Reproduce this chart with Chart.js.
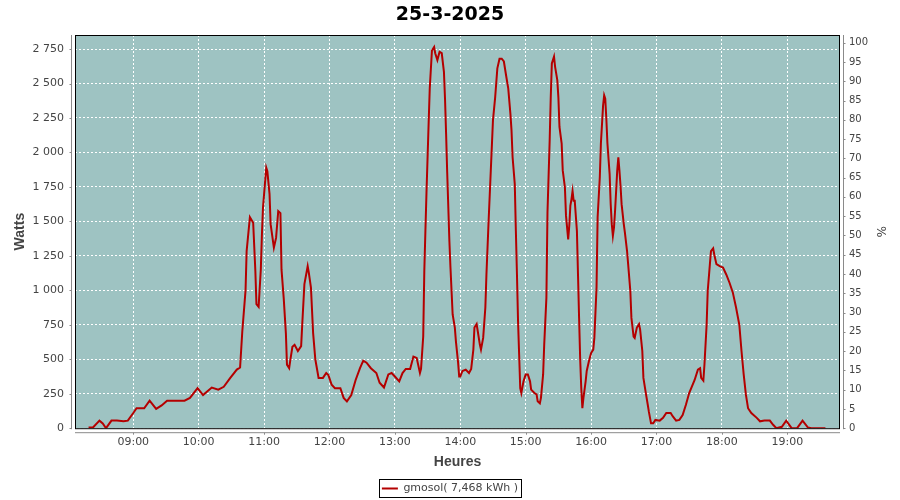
<!DOCTYPE html>
<html>
<head>
<meta charset="utf-8">
<title>25-3-2025</title>
<script src="https://cdn.jsdelivr.net/npm/chart.js@4.4.1/dist/chart.umd.min.js"></script>
<style>
  html, body { margin: 0; padding: 0; background: #fff; }
  #wrap { width: 900px; height: 500px; }
</style>
</head>
<body>
<div id="wrap"><canvas id="chart" width="900" height="500"></canvas></div>
<script>
// production gmosol, relevés
const times = [
  '08:19','08:23','08:29','08:32','08:35','08:40','08:45','08:51','08:55','09:00',
  '09:03','09:10','09:15','09:21','09:26','09:31','09:47','09:52','09:59','10:04',
  '10:12','10:18','10:23','10:29','10:35','10:38','10:40','10:43','10:44','10:47',
  '10:50','10:52','10:53','10:55','10:57','10:58','10:59','11:02','11:03','11:05',
  '11:06','11:09','11:11','11:13','11:15','11:16','11:18','11:20','11:21','11:23',
  '11:24','11:26','11:28','11:31','11:34','11:35','11:37','11:40','11:41','11:43',
  '11:45','11:47','11:50','11:54','11:57','11:59','12:02','12:05','12:10','12:13',
  '12:16','12:20','12:24','12:28','12:31','12:34','12:38','12:43','12:46','12:50',
  '12:54','12:57','13:00','13:04','13:07','13:10','13:14','13:17','13:20','13:23',
  '13:24','13:26','13:27','13:28','13:29','13:31','13:32','13:34','13:36','13:37',
  '13:39','13:41','13:43','13:45','13:46','13:47','13:48','13:50','13:51','13:53',
  '13:55','13:56','13:58','13:59','14:00','14:02','14:05','14:08','14:10','14:12',
  '14:13','14:15','14:16','14:18','14:19','14:21','14:23','14:24','14:26','14:28',
  '14:30','14:32','14:34','14:36','14:38','14:40','14:42','14:44','14:46','14:47',
  '14:48','14:50','14:51','14:52','14:53','14:54','14:55','14:56','14:58','15:00',
  '15:02','15:04','15:05','15:08','15:10','15:11','15:13','15:14','15:16','15:17',
  '15:19','15:20','15:22','15:23','15:24','15:26','15:27','15:29','15:30','15:31',
  '15:33','15:34','15:36','15:37','15:39','15:40','15:41','15:42','15:43','15:44',
  '15:45','15:47','15:48','15:49','15:50','15:51','15:52','15:53','15:55','15:56',
  '15:58','16:00','16:02','16:03','16:05','16:06','16:08','16:09','16:11','16:12',
  '16:13','16:14','16:15','16:17','16:18','16:19','16:20','16:21','16:22','16:24',
  '16:25','16:26','16:27','16:28','16:30','16:31','16:33','16:34','16:36','16:37',
  '16:39','16:40','16:42','16:44','16:45','16:47','16:48','16:50','16:52','16:53',
  '16:55','16:57','16:59','17:03','17:06','17:09','17:13','17:15','17:18','17:21',
  '17:24','17:27','17:30','17:35','17:38','17:40','17:41','17:43','17:44','17:46',
  '17:47','17:49','17:50','17:52','17:53','17:55','17:58','18:01','18:04','18:07',
  '18:10','18:13','18:16','18:18','18:20','18:22','18:24','18:27','18:32','18:35',
  '18:39','18:44','18:47','18:50','18:55','18:59','19:04','19:09','19:14','19:19',
  '19:22','19:35'
];
const watts = [
  5,5,55,35,0,55,55,50,55,110,
  145,145,200,140,165,200,200,220,290,240,
  295,280,300,365,425,440,700,1000,1285,1530,
  1490,1140,900,880,1150,1400,1600,1890,1865,1700,
  1480,1310,1380,1575,1560,1150,945,690,460,435,
  490,590,605,560,595,750,1045,1175,1130,1020,
  690,500,365,365,400,385,315,290,290,220,
  195,240,350,435,490,475,435,400,330,295,
  390,400,375,340,400,430,430,520,510,400,
  430,665,1140,1430,1710,2220,2465,2740,2765,2720,
  2670,2730,2720,2585,2390,2135,1855,1360,1165,825,
  730,630,475,375,375,415,425,400,430,570,
  730,755,705,605,570,655,875,1115,1505,1870,
  2235,2400,2610,2680,2680,2660,2560,2465,2280,2160,
  1965,1770,1430,1115,775,535,290,255,340,390,
  390,340,280,255,245,195,180,220,390,605,
  945,1565,2085,2400,2645,2695,2620,2525,2400,2185,
  2065,1870,1745,1540,1370,1470,1615,1660,1720,1650,
  1650,1430,1115,800,500,290,145,220,340,415,
  485,545,570,655,1020,1530,1820,2065,2340,2415,
  2390,2245,2065,1845,1625,1480,1395,1455,1575,1870,
  1965,1870,1760,1625,1480,1420,1285,1190,995,800,
  665,655,730,755,715,560,365,265,170,120,
  35,35,60,55,75,110,110,85,55,60,
  95,170,255,350,425,435,365,345,460,750,
  995,1190,1285,1305,1260,1190,1175,1165,1115,1055,
  985,875,750,560,390,245,145,110,75,50,
  55,55,25,0,10,55,0,0,55,5,
  0,0
];
const hourTicks = [9, 10, 11, 12, 13, 14, 15, 16, 17, 18, 19];
const wattTicks = [0, 250, 500, 750, 1000, 1250, 1500, 1750, 2000, 2250, 2500, 2750];
const pctTicks = [0, 5, 10, 15, 20, 25, 30, 35, 40, 45, 50, 55, 60, 65, 70, 75, 80, 85, 90, 95, 100];
const seriesLabel = 'gmosol( 7,468 kWh )';

const plotBg = 'rgb(158,195,194)';
const axisGray = '#8a8a8a';
const lineRed = '#b40000';

function toHours(t) {
    const [h, m] = t.split(':').map(Number);
    return h + m / 60;
}

function fmtWatts(v) {
    return String(v).replace(/\B(?=(\d{3})+(?!\d))/g, ' ');
}

// fond du tracé, cadre, axes décalés et cadre de la légende
const plotFrame = {
    id: 'plotFrame',
    beforeDraw(chart) {
        const { ctx, chartArea: a } = chart;
        ctx.save();
        ctx.fillStyle = plotBg;
        ctx.fillRect(a.left, a.top, a.right - a.left, a.bottom - a.top);
        ctx.restore();
    },
    afterDraw(chart) {
        const { ctx, chartArea: a, scales } = chart;
        ctx.save();
        ctx.lineWidth = 1;
        ctx.strokeStyle = '#000';
        ctx.strokeRect(a.left + 0.5, a.top + 0.5, a.right - a.left - 1, a.bottom - a.top);

        ctx.strokeStyle = axisGray;
        ctx.beginPath();
        const lx = a.left - 3.5;
        ctx.moveTo(lx, a.top); ctx.lineTo(lx, a.bottom + 1);
        scales.y.ticks.forEach(t => {
            const py = Math.round(scales.y.getPixelForValue(t.value)) + 0.5;
            ctx.moveTo(lx - 2, py); ctx.lineTo(lx, py);
        });
        const rx = a.right + 3.5;
        ctx.moveTo(rx, a.top); ctx.lineTo(rx, a.bottom + 1);
        scales.y2.ticks.forEach(t => {
            const py = Math.round(scales.y2.getPixelForValue(t.value)) + 0.5;
            ctx.moveTo(rx, py); ctx.lineTo(rx + 2, py);
        });
        const by = a.bottom + 4.5;
        ctx.moveTo(a.left, by); ctx.lineTo(a.right, by);
        scales.x.ticks.forEach(t => {
            const px = Math.round(scales.x.getPixelForValue(t.value)) + 0.5;
            ctx.moveTo(px, by); ctx.lineTo(px, by + 2);
        });
        ctx.stroke();

        const hb = chart.legend.legendHitBoxes[0];
        if (hb) {
            ctx.strokeStyle = '#000';
            ctx.strokeRect(Math.round(hb.left) - 2.5, Math.round(hb.top) - 3.5,
                Math.round(hb.width) + 6, Math.round(hb.height) + 7);
        }
        ctx.restore();
    }
};

Chart.defaults.font.family = "'DejaVu Sans', sans-serif";
Chart.defaults.color = '#444';

const ctx = document.getElementById('chart').getContext('2d');
new Chart(ctx, {
    type: 'line',
    data: {
        datasets: [{
            label: seriesLabel,
            data: times.map((t, i) => ({ x: toHours(t), y: watts[i] })),
            borderColor: lineRed,
            backgroundColor: lineRed,
            borderWidth: 2,
            pointRadius: 0,
            tension: 0,
            fill: false,
            yAxisID: 'y'
        }]
    },
    options: {
        responsive: false,
        devicePixelRatio: 1,
        animation: false,
        layout: { padding: { left: 0, right: 0, top: 0, bottom: -4 } },
        plugins: {
            title: {
                display: true,
                text: '25-3-2025',
                color: '#000',
                font: { size: 19, weight: 'bold' },
                padding: { top: 4.1, bottom: 8.1 }
            },
            legend: {
                position: 'bottom',
                labels: {
                    usePointStyle: true,
                    pointStyle: 'line',
                    pointStyleWidth: 16,
                    boxWidth: 16,
                    padding: 5,
                    color: '#444',
                    font: { size: 11 }
                }
            },
            tooltip: { enabled: false }
        },
        scales: {
            x: {
                type: 'linear',
                min: 8.109,
                max: 19.806,
                afterBuildTicks: s => { s.ticks = hourTicks.map(v => ({ value: v })); },
                afterFit: s => { s.height = 49.8; },
                border: { display: false, dash: [2, 2] },
                grid: { color: '#ffffff', lineWidth: 1, drawTicks: false },
                ticks: {
                    autoSkip: false,
                    maxRotation: 0,
                    padding: 7,
                    color: '#444',
                    font: { size: 11 },
                    callback: v => String(v).padStart(2, '0') + ':00'
                },
                title: {
                    display: true,
                    text: 'Heures',
                    color: '#444',
                    font: { family: "'Liberation Sans', sans-serif", size: 14, weight: 'bold' },
                    padding: { top: 0, bottom: 7.4 }
                }
            },
            y: {
                position: 'left',
                min: 0,
                max: 2852,
                afterBuildTicks: s => { s.ticks = wattTicks.map(v => ({ value: v })); },
                afterFit: s => { s.width = 75; },
                border: { display: false, dash: [2, 2] },
                grid: { color: '#ffffff', lineWidth: 1, drawTicks: false },
                ticks: {
                    padding: 11,
                    color: '#444',
                    font: { size: 11 },
                    callback: v => fmtWatts(v)
                },
                title: {
                    display: true,
                    text: 'Watts',
                    color: '#444',
                    font: { family: "'Liberation Sans', sans-serif", size: 14, weight: 'bold' },
                    padding: { top: 12, bottom: 0 }
                }
            },
            y2: {
                position: 'right',
                min: 0,
                max: 102,
                afterBuildTicks: s => { s.ticks = pctTicks.map(v => ({ value: v })); },
                afterFit: s => { s.width = 60; },
                border: { display: false },
                grid: { display: false, drawTicks: false },
                ticks: {
                    padding: 9,
                    color: '#444',
                    font: { size: 10 }
                },
                title: {
                    display: true,
                    text: '%',
                    color: '#444',
                    font: { size: 12 },
                    padding: { top: 12.8, bottom: 0 }
                }
            }
        }
    },
    plugins: [plotFrame]
});
</script>
</body>
</html>
